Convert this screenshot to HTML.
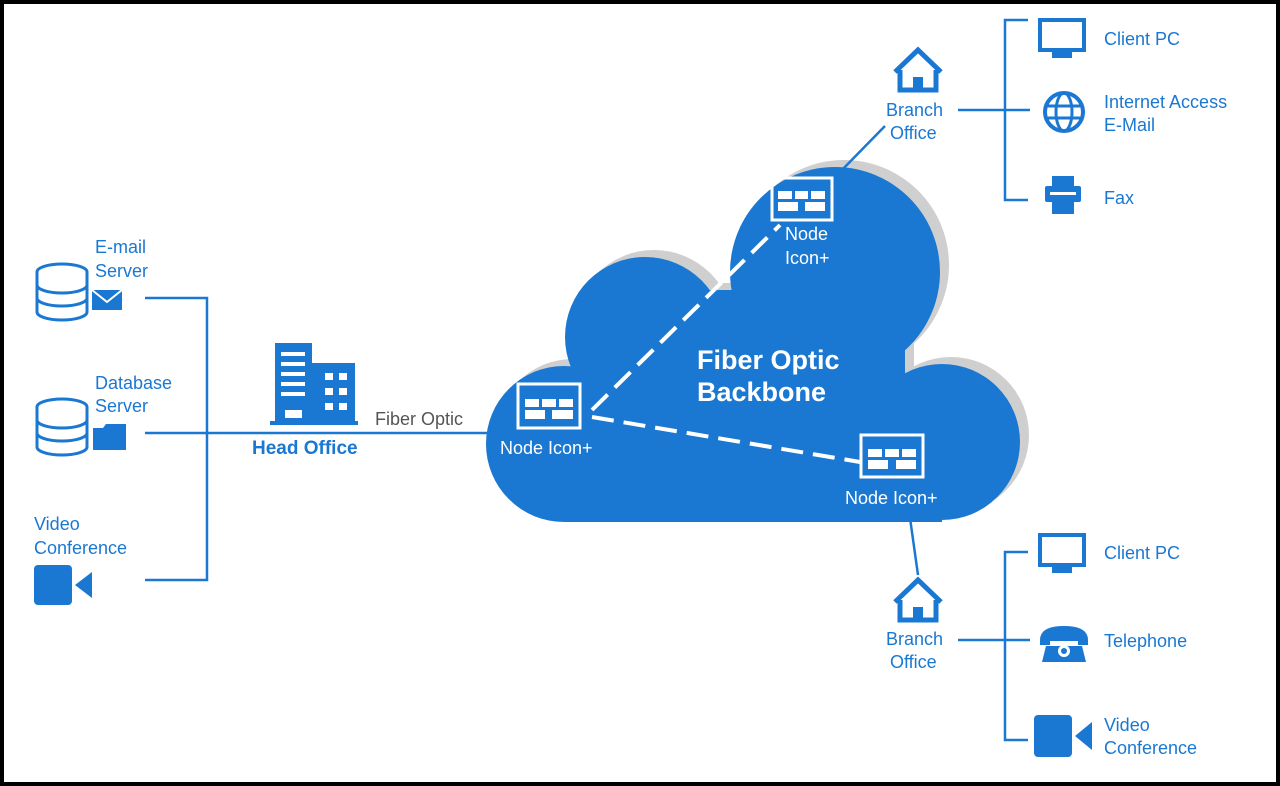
<!DOCTYPE html>
<html><head><meta charset="utf-8"><style>
body{margin:0;background:#000;}
svg{display:block}
text{font-family:"Liberation Sans",sans-serif;}
</style></head><body>
<svg width="1280" height="786" viewBox="0 0 1280 786" xmlns="http://www.w3.org/2000/svg">
<rect x="4" y="4" width="1272" height="778" fill="#fff"/>
<defs>
<g id="cloud">
<circle cx="835" cy="272" r="105"/><circle cx="645" cy="337" r="80"/><circle cx="564" cy="444" r="78"/><circle cx="942" cy="442" r="78"/>
<rect x="600" y="330" width="305" height="192"/><rect x="564" y="380" width="378" height="142"/><rect x="640" y="290" width="220" height="60"/>
</g>
</defs>
<use href="#cloud" fill="#cfcfcf" transform="translate(9,-7)"/>
<use href="#cloud" fill="#1a78d2"/>
<!-- dashed -->
<g stroke="#fff" stroke-width="4" stroke-dasharray="22,10" fill="none">
<line x1="592" y1="410" x2="780" y2="225"/>
<line x1="592" y1="417" x2="860" y2="462"/>
</g>
<!-- node icons -->
<g fill="none" stroke="#fff" stroke-width="3">
<rect x="518" y="384" width="62" height="44"/><rect x="772" y="178" width="60" height="42"/><rect x="861" y="435" width="62" height="42"/>
</g>
<g fill="#fff">
<rect x="525" y="399" width="14" height="8"/><rect x="542" y="399" width="14" height="8"/><rect x="559" y="399" width="14" height="8"/><rect x="525" y="410" width="20" height="9"/><rect x="552" y="410" width="21" height="9"/>
<rect x="778" y="191" width="14" height="8"/><rect x="795" y="191" width="13" height="8"/><rect x="811" y="191" width="14" height="8"/><rect x="778" y="202" width="20" height="9"/><rect x="805" y="202" width="20" height="9"/>
<rect x="868" y="449" width="14" height="8"/><rect x="885" y="449" width="14" height="8"/><rect x="902" y="449" width="14" height="8"/><rect x="868" y="460" width="20" height="9"/><rect x="896" y="460" width="20" height="9"/>
</g>
<g fill="#fff" font-size="18">
<text x="500" y="454">Node Icon+</text>
<text x="785" y="240">Node</text><text x="785" y="264">Icon+</text>
<text x="845" y="504">Node Icon+</text>
<text x="697" y="369" font-size="27" font-weight="bold">Fiber Optic</text>
<text x="697" y="401" font-size="27" font-weight="bold">Backbone</text>
</g>
<!-- connectors -->
<g stroke="#1a78d2" stroke-width="2.5" fill="none">
<polyline points="145,298 207,298 207,580 145,580"/>
<line x1="145" y1="433" x2="490" y2="433"/>
<line x1="840" y1="172" x2="885" y2="126"/>
<line x1="958" y1="110" x2="1030" y2="110"/>
<polyline points="1028,20 1005,20 1005,200 1028,200"/>
<line x1="910" y1="518" x2="918" y2="575"/>
<line x1="958" y1="640" x2="1030" y2="640"/>
<polyline points="1028,552 1005,552 1005,740 1028,740"/>
</g>
<g fill="#1a78d2" font-size="18">
<text x="95" y="253">E-mail</text><text x="95" y="277">Server</text>
<text x="95" y="389">Database</text><text x="95" y="412">Server</text>
<text x="34" y="530">Video</text><text x="34" y="554">Conference</text>
<text x="375" y="425" fill="#555">Fiber Optic</text>
<text x="252" y="454" font-weight="bold" font-size="19">Head Office</text>
<text x="886" y="116">Branch</text><text x="890" y="139">Office</text>
<text x="886" y="645">Branch</text><text x="890" y="668">Office</text>
<text x="1104" y="45">Client PC</text>
<text x="1104" y="108">Internet Access</text><text x="1104" y="131">E-Mail</text>
<text x="1104" y="204">Fax</text>
<text x="1104" y="559">Client PC</text>
<text x="1104" y="647">Telephone</text>
<text x="1104" y="731">Video</text><text x="1104" y="754">Conference</text>
</g>
<!-- left icons: db -->
<g stroke="#1a78d2" stroke-width="3" fill="#fff">
<ellipse cx="62" cy="272" rx="25" ry="8"/><path d="M37,272 v40 a25,8 0 0 0 50,0 v-40"/><path d="M37,285 a25,8 0 0 0 50,0 M37,298 a25,8 0 0 0 50,0" fill="none"/>
<ellipse cx="62" cy="407" rx="25" ry="8"/><path d="M37,407 v40 a25,8 0 0 0 50,0 v-40"/><path d="M37,420 a25,8 0 0 0 50,0 M37,433 a25,8 0 0 0 50,0" fill="none"/>
</g>
<rect x="92" y="290" width="30" height="20" fill="#1a78d2"/>
<path d="M92,290 L107,302 L122,290" stroke="#fff" stroke-width="2" fill="none"/>
<path d="M93,428 h10 l3,-4 h20 v26 h-33z" fill="#1a78d2"/>
<rect x="34" y="565" width="38" height="40" rx="4" fill="#1a78d2"/>
<path d="M75,585 L92,572 V598z" fill="#1a78d2"/>
<!-- head office -->
<g fill="#1a78d2">
<rect x="275" y="343" width="37" height="82"/><rect x="312" y="363" width="43" height="62"/><rect x="270" y="421" width="88" height="4"/>
</g>
<g fill="#fff">
<rect x="281" y="352" width="24" height="4"/><rect x="281" y="362" width="24" height="4"/><rect x="281" y="372" width="24" height="4"/><rect x="281" y="382" width="24" height="4"/><rect x="281" y="392" width="24" height="4"/><rect x="285" y="410" width="17" height="8"/>
<rect x="325" y="373" width="8" height="7"/><rect x="339" y="373" width="8" height="7"/><rect x="325" y="388" width="8" height="7"/><rect x="339" y="388" width="8" height="7"/><rect x="325" y="403" width="8" height="7"/><rect x="339" y="403" width="8" height="7"/>
</g>
<!-- houses -->
<g fill="none" stroke="#1a78d2" stroke-width="5">
<path d="M895,72 L918,50 L941,72"/><path d="M900,70 v20 h36 v-20"/>
<path d="M895,602 L918,580 L941,602"/><path d="M900,600 v20 h36 v-20"/>
</g>
<rect x="913" y="77" width="10" height="13" fill="#1a78d2"/>
<rect x="913" y="607" width="10" height="13" fill="#1a78d2"/>
<!-- right icons -->
<g fill="none" stroke="#1a78d2" stroke-width="4">
<rect x="1040" y="20" width="44" height="30"/><rect x="1040" y="535" width="44" height="30"/>
<circle cx="1064" cy="112" r="19"/><ellipse cx="1064" cy="112" rx="8" ry="19" stroke-width="3"/>
<line x1="1045" y1="106" x2="1083" y2="106" stroke-width="3"/><line x1="1045" y1="118" x2="1083" y2="118" stroke-width="3"/>
</g>
<g fill="#1a78d2">
<rect x="1052" y="52" width="20" height="6"/><rect x="1052" y="567" width="20" height="6"/>
<rect x="1052" y="176" width="22" height="10"/><rect x="1045" y="186" width="36" height="16" rx="2"/><rect x="1052" y="202" width="22" height="12"/>
<path d="M1040,640 q0,-14 24,-14 q24,0 24,14 v5 h-10 v-4 h-28 v4 h-10z"/>
<path d="M1046,646 h36 l4,16 h-44z"/>
<rect x="1034" y="715" width="38" height="42" rx="4"/><path d="M1075,736 L1092,722 V750z"/>
</g>
<rect x="1050" y="192" width="26" height="3" fill="#fff"/>
<circle cx="1064" cy="651" r="6" fill="#fff"/><circle cx="1064" cy="651" r="3" fill="#1a78d2"/>
</svg>
</body></html>
